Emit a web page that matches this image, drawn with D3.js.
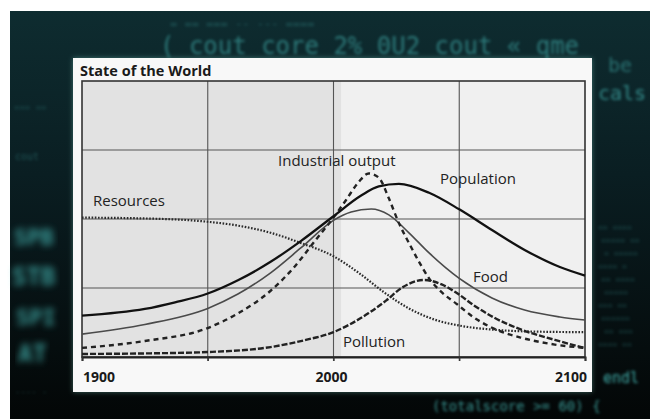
<!DOCTYPE html>
<html>
<head>
<meta charset="utf-8">
<script src="https://cdn.jsdelivr.net/npm/d3@7"></script>
<style>
  body { margin: 0; background: #fff; }
  svg { display: block; }
</style>
</head>
<body>
<div id="chart"></div>
<script>
// values, scale 0..100 (100 = top of the frame)
const populationYears = [1900, 1925, 1937, 1950, 1962, 1975, 1987, 2000, 2011, 2018, 2026, 2038, 2050, 2063, 2076, 2090, 2100];
const populationVals  = [15, 17.4, 19.8, 23, 27.8, 34.5, 42, 51, 58.5, 61.8, 62.7, 59.5, 53.5, 46, 38.8, 32.6, 29.5];

const foodYears = [1900, 1925, 1950, 1962, 1975, 1987, 2000, 2007, 2015, 2022, 2030, 2038, 2050, 2063, 2076, 2090, 2100];
const foodVals  = [8.3, 11.8, 17.6, 22.8, 30.5, 39.5, 49.5, 52.5, 53.6, 51.5, 45, 37.7, 28.5, 21.4, 17, 14.5, 13.4];

const industryYears = [1900, 1925, 1950, 1962, 1975, 1984, 1993, 2000, 2005, 2010, 2014, 2018, 2022, 2026, 2030, 2034, 2038, 2043, 2049, 2056, 2064, 2075, 2088, 2100];
const industryVals  = [3.3, 5.8, 10.5, 15.8, 24, 32.2, 42.5, 50.5, 56.9, 63.4, 66.5, 65, 57.5, 48.5, 41.3, 34.5, 28.5, 23.5, 19.2, 14.2, 10.2, 6.9, 4.5, 3.3];

const resourceYears = [1900, 1925, 1950, 1962, 1975, 1987, 2000, 2010, 2020, 2030, 2040, 2050, 2065, 2080, 2100];
const resourceVals  = [50.5, 50.2, 49, 47.6, 45, 41.3, 36.5, 30.5, 23.5, 17.6, 13.6, 11.4, 9.8, 9.2, 9];

const pollutionYears = [1900, 1925, 1950, 1975, 1989, 2000, 2006, 2014, 2021, 2027, 2036, 2043, 2049, 2056, 2064, 2075, 2088, 2100];
const pollutionVals  = [1.1, 1.3, 1.8, 3.6, 6.2, 9, 11.6, 15.9, 20.5, 25, 27.9, 26.3, 23.2, 18.6, 14.2, 9.8, 6.2, 3.2];

const xTicks = [1900, 2000, 2100];
const xGrid = [1950, 2000, 2050];
const yGrid = [25, 50, 75];

const W = 650, H = 419;
const svg = d3.select("#chart").append("svg")
  .attr("width", W).attr("height", H);

// ---- photo background (dark screen with code) ----
const defs = svg.append("defs");
const bg = defs.append("linearGradient").attr("id", "bg")
  .attr("x1", 0).attr("y1", 0).attr("x2", 0).attr("y2", 1);
bg.append("stop").attr("offset", "0%").attr("stop-color", "#0e2c30");
bg.append("stop").attr("offset", "40%").attr("stop-color", "#0a1e22");
bg.append("stop").attr("offset", "100%").attr("stop-color", "#030606");
defs.append("filter").attr("id", "blur")
  .append("feGaussianBlur").attr("stdDeviation", 1.4);
defs.append("filter").attr("id", "blur2")
  .append("feGaussianBlur").attr("stdDeviation", 3.5);
defs.append("filter").attr("id", "shadow")
  .append("feDropShadow").attr("dx", 0).attr("dy", 0)
  .attr("stdDeviation", 2.5).attr("flood-color", "#9fe").attr("flood-opacity", 0.35);

svg.append("rect").attr("x", 10).attr("y", 11).attr("width", W - 10).attr("height", H - 11)
  .attr("fill", "url(#bg)");

const code = svg.append("g").attr("font-family", "DejaVu Sans Mono, monospace");
const snippets = [
  {t: "( cout core  2%  0U2   cout  \u00ab  qme", x: 160, y: 54, s: 24, o: 0.5, f: "blur"},
  {t: "= == ===  -- ---  ====", x: 170, y: 28, s: 12, o: 0.3, f: "blur"},
  {t: "cals", x: 598, y: 100, s: 20, o: 0.6, f: "blur"},
  {t: "be", x: 608, y: 72, s: 20, o: 0.45, f: "blur"},
  {t: "endl", x: 603, y: 383, s: 15, o: 0.85, f: "blur"},
  {t: "(totalscore >= 60) {", x: 432, y: 411, s: 14, o: 0.75, f: "blur"},
  {t: "cout", x: 15, y: 160, s: 10, o: 0.3, f: "blur"},
  {t: "=== ==", x: 14, y: 110, s: 9, o: 0.3, f: "blur"},
  {t: "---- -", x: 15, y: 395, s: 9, o: 0.3, f: "blur"}
];
code.selectAll("text.snip").data(snippets).join("text")
  .attr("class", "snip")
  .attr("x", d => d.x).attr("y", d => d.y)
  .attr("font-size", d => d.s)
  .attr("fill", "#4cc8c4").attr("opacity", d => d.o)
  .attr("filter", d => `url(#${d.f})`)
  .text(d => d.t);

// small code lines in the right strip
const rightLines = ["== ====", "===== ==", "= =====", "==== =", "== ====", "=====", "=== ==", "======", "== ===", "==== =="];
code.selectAll("text.rl").data(rightLines).join("text")
  .attr("class", "rl")
  .attr("x", (d, i) => 598 + (i % 3) * 3).attr("y", (d, i) => 230 + i * 13)
  .attr("font-size", 8).attr("fill", "#4cc8c4").attr("opacity", 0.35)
  .attr("filter", "url(#blur)")
  .text(d => d);

// bright glowing fragments on the left edge
const leftBits = [
  {t: "SPB", x: 14, y: 245, s: 22}, {t: "STB", x: 12, y: 285, s: 24},
  {t: "SPI", x: 16, y: 325, s: 22}, {t: "AT", x: 18, y: 362, s: 24}
];
code.selectAll("text.lb").data(leftBits).join("text")
  .attr("class", "lb")
  .attr("x", d => d.x).attr("y", d => d.y)
  .attr("font-size", d => d.s).attr("font-weight", 700)
  .attr("fill", "#4fd0cc").attr("opacity", 0.7)
  .attr("filter", "url(#blur2)")
  .text(d => d.t);

// ---- the chart card ----
svg.append("rect").attr("x", 73).attr("y", 58).attr("width", 519).attr("height", 334)
  .attr("fill", "#f8f8f8").attr("filter", "url(#shadow)");

const margin = {left: 82, right: 585, top: 81, bottom: 357};
const x = d3.scaleLinear().domain([1900, 2100]).range([margin.left, margin.right]);
const y = d3.scaleLinear().domain([0, 100]).range([margin.bottom, margin.top]);

const plot = svg.append("g");
plot.append("rect").attr("x", x(1900)).attr("y", y(100))
  .attr("width", x(2100) - x(1900)).attr("height", y(0) - y(100))
  .attr("fill", "#f0f0f0");
plot.append("rect").attr("x", x(1900)).attr("y", y(100))
  .attr("width", x(2003) - x(1900)).attr("height", y(0) - y(100))
  .attr("fill", "#e2e2e2");

// grid
plot.selectAll("line.vg").data(xGrid).join("line")
  .attr("class", "vg")
  .attr("x1", d => x(d)).attr("x2", d => x(d))
  .attr("y1", y(100)).attr("y2", y(0) + 4)
  .attr("stroke", "#555").attr("stroke-width", 1.1);
plot.selectAll("line.hg").data(yGrid).join("line")
  .attr("class", "hg")
  .attr("x1", x(1900)).attr("x2", x(2100))
  .attr("y1", d => y(d)).attr("y2", d => y(d))
  .attr("stroke", "#555").attr("stroke-width", 1.1);

// frame
plot.append("rect").attr("x", x(1900)).attr("y", y(100))
  .attr("width", x(2100) - x(1900)).attr("height", y(0) - y(100))
  .attr("fill", "none").attr("stroke", "#333").attr("stroke-width", 1.6);

// x axis
const xAxis = svg.append("g")
  .attr("transform", `translate(0,${y(0)})`)
  .call(d3.axisBottom(x).tickValues([1900, 1950, 2000, 2050, 2100]).tickSize(4).tickFormat(""));
xAxis.select(".domain").attr("stroke", "#222").attr("stroke-width", 2);
xAxis.selectAll(".tick line").attr("stroke", "#333").attr("stroke-width", 1.3);

svg.append("g").selectAll("text").data(xTicks).join("text")
  .attr("x", (d, i) => i === 0 ? x(d) + 1 : i === xTicks.length - 1 ? x(d) + 2 : x(d) - 2)
  .attr("y", 382)
  .attr("text-anchor", (d, i) => i === 0 ? "start" : i === xTicks.length - 1 ? "end" : "middle")
  .attr("font-family", "Open Sans, sans-serif").attr("font-weight", 700)
  .attr("font-size", 14).attr("fill", "#1a1a1a")
  .text(d => d);

// title
svg.append("text").attr("x", 80).attr("y", 76)
  .attr("font-family", "Open Sans, sans-serif").attr("font-weight", 700)
  .attr("font-size", 14.5).attr("fill", "#1a1a1a")
  .text("State of the World");

// ---- curves ----
const series = [
  {name: "Resources", years: resourceYears, vals: resourceVals, w: 2.2, dash: "1.6,1.6", color: "#2a2a2a"},
  {name: "Food", years: foodYears, vals: foodVals, w: 1.6, dash: null, color: "#4a4a4a"},
  {name: "Pollution", years: pollutionYears, vals: pollutionVals, w: 2.4, dash: "6,2", color: "#222"},
  {name: "Industrial output", years: industryYears, vals: industryVals, w: 2.4, dash: "5,4", color: "#222"},
  {name: "Population", years: populationYears, vals: populationVals, w: 2.3, dash: null, color: "#111"}
];

const line = d3.line()
  .x(d => x(d[0])).y(d => y(d[1]))
  .curve(d3.curveMonotoneX);

svg.append("g").selectAll("path").data(series).join("path")
  .attr("d", s => line(s.years.map((yr, i) => [yr, s.vals[i]])))
  .attr("fill", "none")
  .attr("stroke", s => s.color)
  .attr("stroke-width", s => s.w)
  .attr("stroke-dasharray", s => s.dash)
  .attr("stroke-linejoin", "round");

// labels
const labels = [
  {t: "Resources", x: 93, y: 206},
  {t: "Industrial output", x: 278, y: 166},
  {t: "Population", x: 440, y: 184},
  {t: "Food", x: 473, y: 282},
  {t: "Pollution", x: 343, y: 347}
];
svg.append("g").selectAll("text").data(labels).join("text")
  .attr("x", d => d.x).attr("y", d => d.y)
  .attr("font-family", "Open Sans, sans-serif")
  .attr("font-size", 15).attr("fill", "#222")
  .text(d => d.t);
</script>
</body>
</html>
